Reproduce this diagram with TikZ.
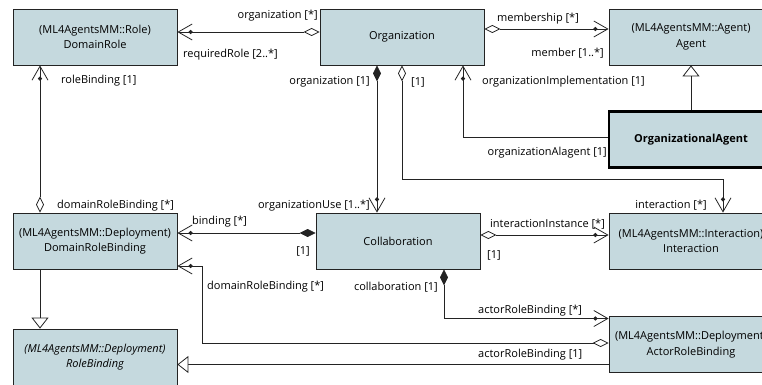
\documentclass[tikz,border=0pt]{standalone}
\usepackage{fontspec}
\setmainfont{Open Sans}
\usetikzlibrary{arrows.meta, positioning, calc}
\definecolor{umlfill}{RGB}{197,217,222}
\definecolor{umlline}{RGB}{35,35,35}

\tikzset{
    Nav/.tip={Circle[length=4pt,sep=-4pt] Straight Barb[length=14pt,width=16pt]},
    ODia/.tip={Diamond[length=16pt,width=8pt,fill=white]},
    FDia/.tip={Diamond[length=16pt,width=8pt]},
    GenTri/.tip={Triangle[length=11pt,width=17pt,fill=white]}
}

\begin{document}
\begin{tikzpicture}[x=1pt,y=-1pt,
    cls/.style={rectangle,draw=umlline,fill=umlfill,line width=0.8pt,minimum width=164pt,minimum height=56pt,inner sep=1pt,align=center,font=\fontsize{11}{15.5}\selectfont},
    lbl/.style={inner sep=0pt,font=\fontsize{11}{12}\selectfont},
    assoc/.style={draw=umlline,line width=0.8pt},
    agg/.style={assoc,{ODia}-{Nav}},
    comp/.style={assoc,{FDia}-{Nav}},
    nav/.style={assoc,-{Nav}},
    gen/.style={assoc,-{GenTri}}]
    \useasboundingbox (0,0) rectangle (762,385);

    % Klassen
    \node[cls] (role) at (95,37) {(ML4AgentsMM::Role)\\DomainRole};
    \node[cls] (org) at (402,37) {Organization};
    \node[cls] (agent) at (691,37) {(ML4AgentsMM::Agent)\\Agent};
    \node[cls,draw=black,line width=2.6pt,font=\fontsize{11}{15.5}\selectfont\bfseries] (oagent) at (691,139.5) {OrganizationalAgent};
    \node[cls] (drb) at (95,241) {(ML4AgentsMM::Deployment)\\DomainRoleBinding};
    \node[cls] (collab) at (398,241) {Collaboration};
    \node[cls] (inter) at (691,241) {(ML4AgentsMM::Interaction)\\Interaction};
    \node[cls] (arb) at (691,344.5) {(ML4AgentsMM::Deployment)\\ActorRoleBinding};
    \node[cls,font=\fontsize{11}{15.5}\selectfont\itshape] (rb) at (95,357) {(ML4AgentsMM::Deployment)\\RoleBinding};

    % Assoziationen
    \draw[agg] ([yshift=5pt]org.west) -- ([yshift=5pt]role.east);
    \draw[agg] ([yshift=8pt]org.east) -- ([yshift=8pt]agent.west);
    \draw[comp] ([xshift=-25pt]org.south) -- ([xshift=-25pt]org.south |- collab.north);
    \draw[agg] (org.south) |- ([xshift=32pt,yshift=33pt]inter.north) -- ([xshift=32pt]inter.north);
    \draw[nav] ([yshift=2pt]oagent.west) -| ([xshift=61pt]org.south);
    \draw[agg] ([xshift=-55pt]drb.north) -- ([xshift=-55pt]role.south);
    \draw[comp] ([yshift=8pt]collab.west) -- ([yshift=8pt]collab.west -| drb.east);
    \draw[agg] ([yshift=6pt]collab.east) -- ([yshift=6pt]collab.east -| inter.west);
    \draw[comp] ([xshift=46pt]collab.south) |- ([yshift=26pt]arb.west);
    \draw[agg] ([yshift=1.5pt]arb.west) -| ([xshift=25pt,yshift=-25pt]drb.east) -- ([yshift=-25pt]drb.east);

    % Generalisierungen
    \draw[gen] (oagent.north) -- (agent.south);
    \draw[gen] ([yshift=-20pt]arb.west) -- ([yshift=-20pt]arb.west -| rb.east);
    \draw[gen] ([xshift=-55pt]drb.south) -- ([xshift=-55pt]rb.north);

    % Rollennamen
    \node[lbl,anchor=east] (lOrgA) at (318,16) {organization [*]};
    \node[lbl,anchor=west] (lReqRole) at (183,55) {requiredRole [2..*]};
    \node[lbl,anchor=west] (lMembership) at (497,19) {membership [*]};
    \node[lbl,anchor=east] (lMember) at (604,53) {member [1..*]};
    \node[lbl,anchor=east] (lOrgB) at (370,82) {organization [1]};
    \node[lbl,anchor=west] (lOrgC) at (411,82) {[1]};
    \node[lbl,anchor=west] (lOrgImpl) at (482,82) {organizationImplementation [1]};
    \node[lbl,anchor=east] (lOrgAgent) at (607,153) {organizationAlagent [1]};
    \node[lbl,anchor=west] (lRoleBind) at (61,81) {roleBinding [1]};
    \node[lbl,anchor=west] (lDrbA) at (57,206) {domainRoleBinding [*]};
    \node[lbl,anchor=east] (lOrgUse) at (370,206) {organizationUse [1..*]};
    \node[lbl,anchor=west] (lBinding) at (192,222) {binding [*]};
    \node[lbl,anchor=east] (lBindOne) at (310,251) {[1]};
    \node[lbl,anchor=west] (lInstance) at (490,224) {interactionInstance [*]};
    \node[lbl,anchor=west] (lInstOne) at (487,255) {[1]};
    \node[lbl,anchor=east] (lInter) at (707,205) {interaction [*]};
    \node[lbl,anchor=west] (lDrbB) at (207,287) {domainRoleBinding [*]};
    \node[lbl,anchor=east] (lCollab) at (438,287) {collaboration [1]};
    \node[lbl,anchor=west] (lArbA) at (478,311) {actorRoleBinding [*]};
    \node[lbl,anchor=west] (lArbB) at (478,355) {actorRoleBinding [1]};
\end{tikzpicture}
\end{document}
